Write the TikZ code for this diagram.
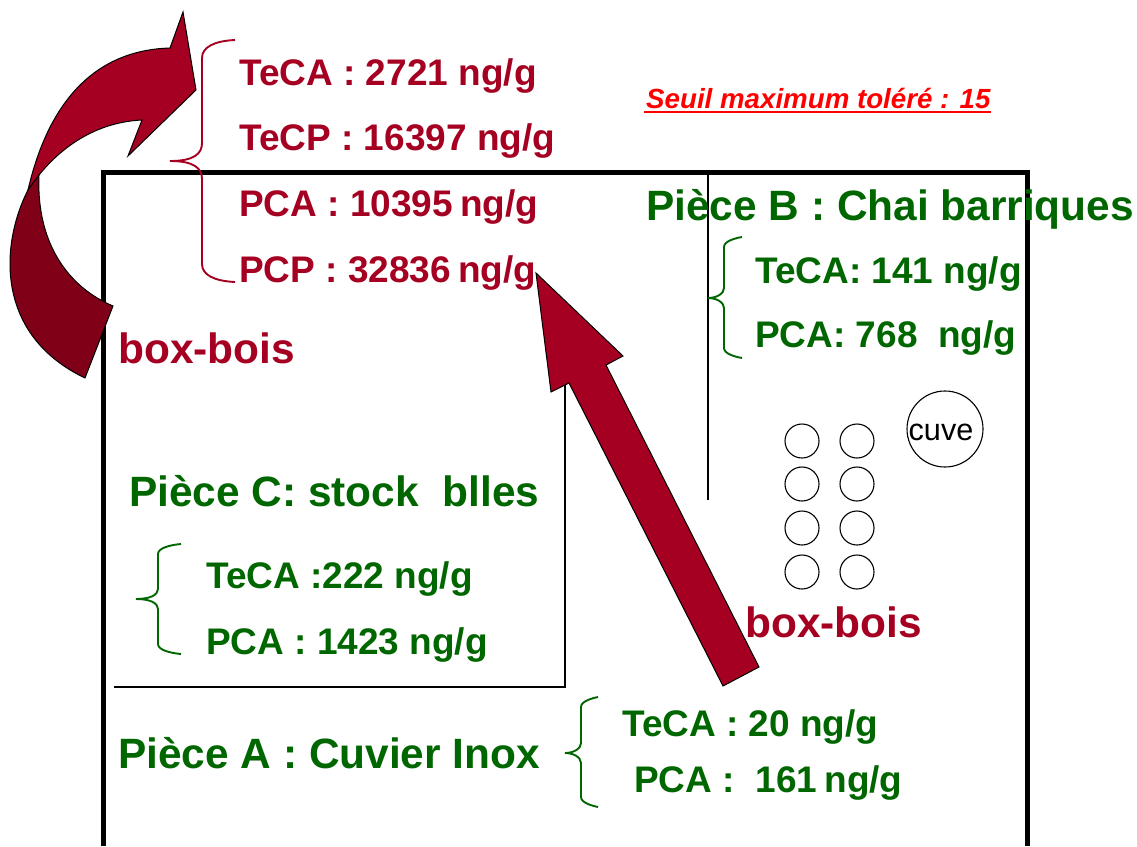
\documentclass[tikz,border=0pt]{standalone}
\usepackage{fontspec}
\setmainfont{Liberation Sans}
\definecolor{boxred}{HTML}{A50021}
\definecolor{darkred}{HTML}{800018}
\definecolor{piecegreen}{HTML}{006600}
\tikzset{
  label/.style={anchor=base west, inner sep=0pt, font=\fontsize{37}{40}\selectfont\bfseries},
  redlabel/.style={label, text=boxred},
  greenlabel/.style={label, text=piecegreen},
  titlefont/.style={font=\fontsize{42.4}{45}\selectfont\bfseries},
  arrowshape/.style={draw=black, line width=1pt, fill=boxred},
  cuvering/.style={circle, draw=black, line width=1.1pt, inner sep=0pt, minimum size=34pt},
}
\begin{document}
\begin{tikzpicture}[x=1pt,y=-1pt]
  \useasboundingbox (0,0) rectangle (1137,846);
  % walls
  \draw[line width=5pt, miter limit=10] (103,846) -- (103,172) -- (1027,172) -- (1027,846);
  \draw[line width=1.2pt] (708,172) -- (708,500);
  \draw[line width=1.2pt] (114,687) -- (565,687) -- (565,383);
  % curved arrow
  \draw[arrowshape] (196,90) -- (183,12) -- (170,48) .. controls (100,50) and (50,95) .. (28,190)
    -- (39,175) .. controls (65,143) and (100,122) .. (142,120) -- (128,156) -- cycle;
  \draw[arrowshape, fill=darkred] (28,190) .. controls (0,245) and (-5,335) .. (85,378) -- (113,306)
    .. controls (70,288) and (36,245) .. (39,175) -- cycle;
  % straight arrow
  \draw[arrowshape] (536,273) -- (623,356) -- (606,365) -- (759,667) -- (723,686) -- (569,383) -- (551,392) -- cycle;
  % braces
  \foreach \bcol/\bend/\bx/\btip/\ya/\ym/\yb/\br in {boxred/235/202/170/40/161/282/18, piecegreen/742/724/708/237/298/358/10,
      piecegreen/181/158/136/544/599/654/10, piecegreen/598/581/565/697/753/807/10}{
    \draw[\bcol, line width=1.9pt] (\bend,\ya) .. controls (\bx+12,\ya+1) and (\bx,\ya+\br*0.4) .. (\bx,\ya+\br)
      -- (\bx,\ym-\br) .. controls (\bx,\ym-\br*0.4) and (\bx-8,\ym) .. (\btip,\ym)
      .. controls (\bx-8,\ym) and (\bx,\ym+\br*0.4) .. (\bx,\ym+\br)
      -- (\bx,\yb-\br) .. controls (\bx,\yb-\br*0.4) and (\bx+12,\yb-1) .. (\bend,\yb);
  }
  % vats
  \foreach \cx in {802,857}{
    \foreach \cy in {441,484,528,572}{
      \node[cuvering] (vat\cx\cy) at (\cx,\cy) {};
    }
  }
  \node[cuvering, minimum size=76pt] (cuve) at (945,429) {};
  \node[inner sep=0pt, font=\fontsize{30.6}{33}\selectfont] (cuvelabel) at (941,432) {cuve};
  % labels
  \node[redlabel] (roofteca) at (239,85.5) {TeCA : 2721 ng/g};
  \node[redlabel] (rooftecp) at (239,150.5) {TeCP : 16397 ng/g};
  \node[redlabel] (roofpca) at (239,216) {PCA : 10395\hspace{-3pt} ng/g};
  \node[redlabel] (roofpcp) at (239,282) {PCP : 32836\hspace{-3pt} ng/g};
  \node[redlabel, titlefont] (boxleft) at (118,363) {box-bois};
  \node[redlabel, titlefont] (boxright) at (745,637) {box-bois};
  \node[label, text=red, font=\fontsize{27.7}{30}\selectfont\bfseries\itshape] (seuil) at (646,108) {Seuil maximum toléré : 15};
  \draw[red, line width=2.4pt] ([shift={(-2pt,-4pt)}]seuil.base west) -- ([yshift=-4pt]seuil.base east);
  \node[greenlabel, titlefont] (pieceb) at (646,220) {Pièce B : Chai barriques};
  \node[greenlabel] (bteca) at (755,283) {TeCA: 141 ng/g};
  \node[greenlabel] (bpca) at (755,347) {PCA: 768\ \ ng/g};
  \node[greenlabel, titlefont] (piecec) at (129,506) {Pièce C: stock\ \ blles};
  \node[greenlabel] (cteca) at (206,588) {TeCA :222 ng/g};
  \node[greenlabel] (cpca) at (206,654) {PCA : 1423 ng/g};
  \node[greenlabel, titlefont] (piecea) at (118,768) {Pièce A : Cuvier Inox};
  \node[greenlabel] (ateca) at (622,736) {TeCA : 20 ng/g};
  \node[greenlabel] (apca) at (634,792) {PCA :\ \ 161\hspace{-3pt} ng/g};
\end{tikzpicture}
\end{document}
